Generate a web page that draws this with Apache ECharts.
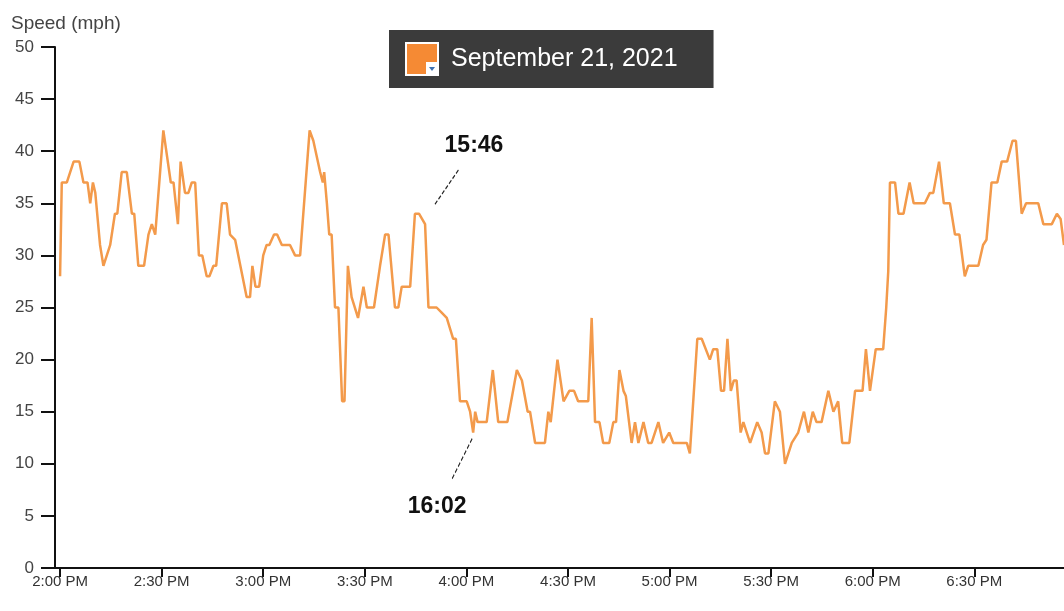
<!DOCTYPE html>
<html>
<head>
	<meta charset="utf-8" />
	<title>Speed</title>
	<script src="https://cdn.jsdelivr.net/npm/echarts@6/dist/echarts.min.js"></script>
	<style>
		html, body { margin: 0; padding: 0; background: #fff; }
		#chart { width: 1064px; height: 611px; }
	</style>
</head>
<body>
	<div id="chart"></div>
	<script type="text/javascript">
		// minutes after 2:00 PM, and speed in mph
		const minutes = [
			0, 0.5, 2, 4, 5.7, 6.9, 8.1, 8.9, 9.7, 10.4, 11.8, 12.8, 14.8, 16.2, 16.9, 18.2, 19.7, 21.2, 21.9, 23.1,
			24.8, 26.1, 27.1, 28.1, 30.5, 32.7, 33.5, 34.8, 35.6, 36.9, 37.9, 38.9, 39.9, 41, 42, 43.3, 44.1, 45.3, 46.1, 47.8,
			49.2, 50.2, 51.7, 55.1, 56.1, 56.8, 57.7, 58.8, 60, 61, 61.8, 63.2, 64.1, 65.5, 67.9, 69.4, 70.9, 73.7, 74.8, 76.8,
			77.6, 78, 78.8, 79.5, 80.2, 81.2, 82.2, 83.3, 84, 85, 86.1, 88, 89.6, 90.6, 92.7, 94.5, 96, 97, 98.9, 99.9,
			100.9, 103.4, 104.8, 106, 107.8, 108.8, 111.2, 112.7, 114.2, 116.1, 116.9, 118.1, 120.1, 121.1, 122, 122.6, 123.3, 126, 127.8, 129.4,
			130.4, 132.1, 134.9, 136.4, 138.1, 138.8, 140.3, 143.2, 144.2, 144.9, 146.9, 148.7, 150.4, 151.8, 153, 156, 157, 158, 159.3, 160.4,
			162.2, 163.4, 164.2, 165.2, 166.4, 167.1, 168.8, 169.8, 170.8, 172.3, 173.7, 174.7, 176.7, 178.1, 179.9, 181.1, 185.1, 186, 188.2, 189.5,
			191.9, 192.9, 194.1, 195.2, 196.1, 197.1, 198.1, 199, 199.8, 201, 201.8, 203.8, 205.9, 207.2, 208.2, 209.2, 211.1, 212.6, 214.1, 216.1,
			218, 219.7, 221, 222.3, 223.4, 224.9, 226.9, 228.4, 229.8, 231, 233.1, 234.8, 237, 238, 239.2, 240.9, 243.1, 244, 244.6, 245.1,
			246.6, 247.6, 249.1, 250.9, 252.1, 255.4, 256.9, 257.9, 259.6, 261, 262.8, 264.3, 265.6, 267.2, 268.2, 271.2, 272.6, 273.6, 275.1, 276.8,
			278.1, 279.7, 281.3, 282.3, 284, 285.3, 288.9, 290.4, 292.9, 294.4, 295.5, 296.5
		];
		const speeds = [
			28, 37, 37, 39, 39, 37, 37, 35, 37, 36, 31, 29, 31, 34, 34, 38, 38, 34, 34, 29,
			29, 32, 33, 32, 42, 37, 37, 33, 39, 36, 36, 37, 37, 30, 30, 28, 28, 29, 29, 35,
			35, 32, 31.5, 26, 26, 29, 27, 27, 30, 31, 31, 32, 32, 31, 31, 30, 30, 42, 41, 38,
			37, 38, 35, 32, 32, 25, 25, 16, 16, 29, 26, 24, 27, 25, 25, 29, 32, 32, 25, 25,
			27, 27, 34, 34, 33, 25, 25, 24.5, 24, 22, 22, 16, 16, 15, 13, 15, 14, 14, 19, 14,
			14, 14, 19, 18, 15, 15, 12, 12, 15, 14, 20, 16, 17, 17, 16, 16, 24, 14, 14, 12,
			12, 14, 14, 19, 17, 16.5, 12, 14, 12, 14, 12, 12, 14, 12, 13, 12, 12, 11, 22, 22,
			20, 21, 21, 17, 17, 22, 17, 18, 18, 13, 14, 12, 14, 13, 11, 11, 16, 15, 10, 12,
			13, 15, 13, 15, 14, 14, 17, 15, 16, 12, 12, 17, 17, 21, 17, 21, 21, 25, 28.5, 37,
			37, 34, 34, 37, 35, 35, 36, 36, 39, 35, 35, 32, 32, 28, 29, 29, 31, 31.5, 37, 37,
			39, 39, 41, 41, 34, 35, 35, 33, 33, 34, 33.5, 31
		];
		const tickMinutes = [0, 30, 60, 90, 120, 150, 180, 210, 240, 270];
		const noteMinutes = [106, 122];
		const seriesName = 'September 21, 2021';

		const lineColor = '#f39a4b';

		function clock12(m) {
			const h = 14 + Math.floor(m / 60);
			const mm = Math.round(m % 60);
			return (h > 12 ? h - 12 : h) + ':' + (mm < 10 ? '0' : '') + mm + ' PM';
		}
		function clock24(m) {
			const h = 14 + Math.floor(m / 60);
			const mm = Math.round(m % 60);
			return h + ':' + (mm < 10 ? '0' : '') + mm;
		}

		const lineData = minutes.map(function (m, i) { return [m, speeds[i]]; });

		// leader lines and labels for the two marked points
		const noteStyle = [
			{ leader: 'path://M0,35L24,0', size: [24, 35], offset: [28, -27], text: [55, -68] },
			{ leader: 'path://M20,0L0,40', size: [20, 40], offset: [-11, 26], text: [-36, 74] }
		];
		const markData = [];
		noteMinutes.forEach(function (m, k) {
			const i = minutes.indexOf(m);
			const coord = [minutes[i], speeds[i]];
			markData.push({
				coord: coord,
				symbol: noteStyle[k].leader,
				symbolSize: noteStyle[k].size,
				symbolOffset: noteStyle[k].offset,
				itemStyle: { color: 'transparent', borderColor: '#222', borderWidth: 1.3, borderType: [4, 2] },
				label: { show: false }
			});
			markData.push({
				coord: coord,
				symbol: 'circle',
				symbolSize: 0,
				label: {
					show: true,
					position: 'inside',
					offset: noteStyle[k].text,
					formatter: clock24(m),
					color: '#111',
					fontSize: 23,
					fontWeight: 'bold',
					fontFamily: 'Liberation Sans, Arial, sans-serif'
				}
			});
		});

		const chart = echarts.init(document.getElementById('chart'));
		const option = {
			animation: false,
			textStyle: { fontFamily: 'Liberation Sans, Arial, sans-serif' },
			grid: { left: 55, right: 0, top: 47, bottom: 43, containLabel: false },
			legend: {
				data: [seriesName],
				left: 389,
				top: 30,
				backgroundColor: '#3b3b3b',
				padding: [12, 36, 12, 16],
				itemWidth: 32,
				itemHeight: 32,
				icon: 'rect',
				selectedMode: false,
				itemStyle: { color: '#f58a34', borderColor: '#fff', borderWidth: 2 },
				textStyle: { color: '#fff', fontSize: 25, padding: [0, 0, 0, 8] }
			},
			graphic: [
				{ type: 'rect', left: 426, top: 62, shape: { width: 12, height: 13 }, style: { fill: '#fff' }, z: 200 },
				{ type: 'polygon', shape: { points: [[429, 67], [435, 67], [432, 71]] }, style: { fill: '#3c6fb0' }, z: 201 }
			],
			xAxis: {
				type: 'value',
				min: -1.5,
				max: 296.5,
				splitLine: { show: false },
				axisLine: { show: true, onZero: false, lineStyle: { color: '#111', width: 2 } },
				axisTick: { show: true, customValues: tickMinutes, length: 9, lineStyle: { color: '#111', width: 2 } },
				axisLabel: {
					customValues: tickMinutes,
					formatter: function (v) { return clock12(v); },
					color: '#333',
					fontSize: 15,
					margin: 6
				}
			},
			yAxis: {
				type: 'value',
				min: 0,
				max: 50,
				interval: 5,
				name: 'Speed (mph)',
				nameLocation: 'end',
				nameGap: 14,
				nameTextStyle: { color: '#444', fontSize: 19, align: 'left', padding: [0, 0, 0, -44] },
				splitLine: { show: false },
				axisLine: { show: true, onZero: false, lineStyle: { color: '#111', width: 2 } },
				axisTick: { show: true, length: 14, lineStyle: { color: '#111', width: 2 } },
				axisLabel: { color: '#444', fontSize: 17, margin: 21 }
			},
			series: [{
				name: seriesName,
				type: 'line',
				data: lineData,
				showSymbol: false,
				symbol: 'none',
				lineStyle: { color: lineColor, width: 2.5 },
				itemStyle: { color: lineColor },
				markPoint: { silent: true, data: markData }
			}]
		};
		chart.setOption(option);
	</script>
</body>
</html>
